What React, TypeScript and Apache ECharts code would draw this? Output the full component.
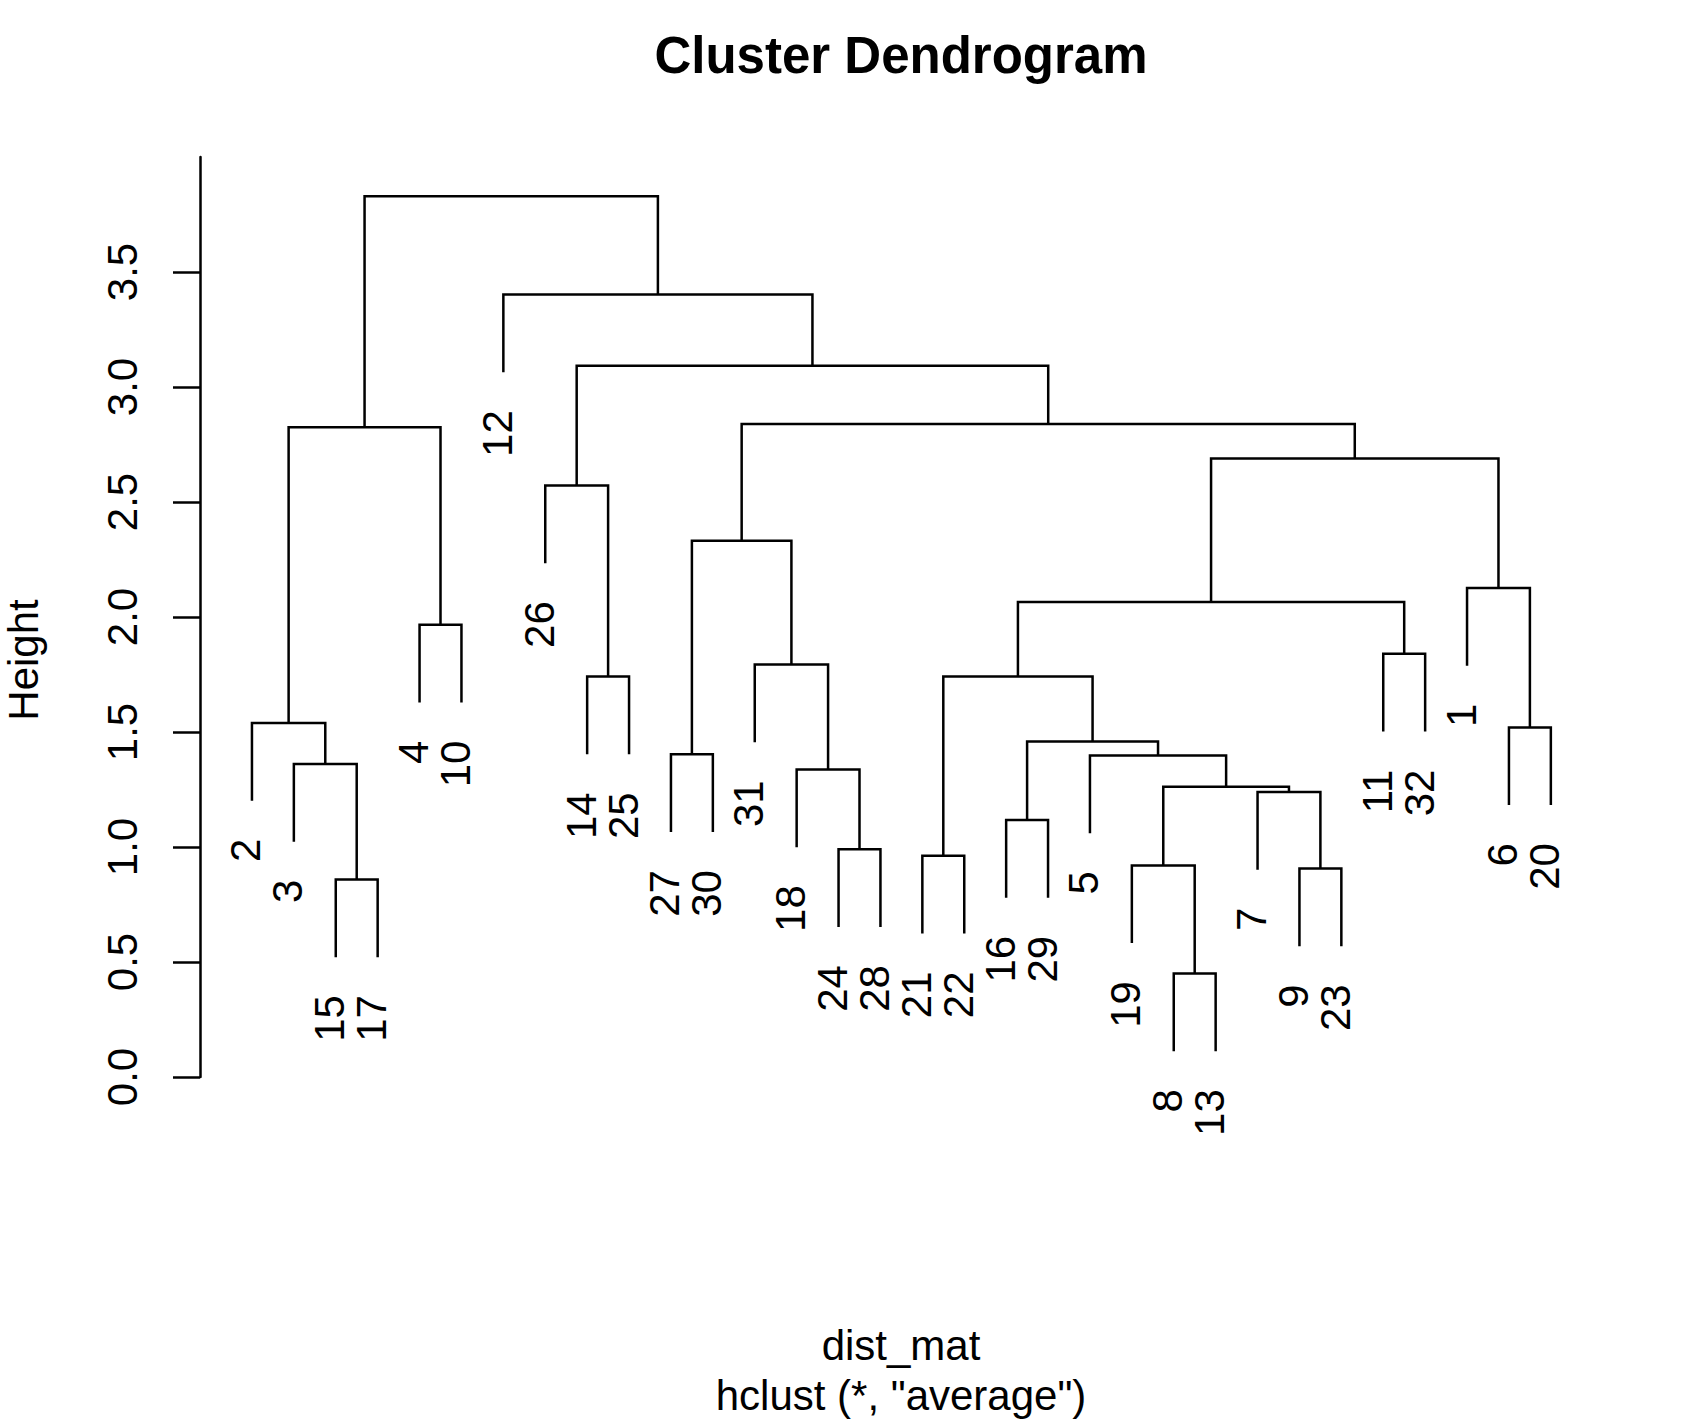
import React, { useEffect, useRef } from 'react';
import * as echarts from 'echarts';

// hclust merge matrix (R convention: negative = observation, positive = earlier merge, 1-based)
const mergeLeft = [-8, -15, -9, -19, -21, -24, -16, -7, 4, -18, -3, -5, -27, 7, -6, -2, -14, 5, -31, -11, -4, 18, -1, 13, -26, 22, 16, 24, 25, -12, 27];
const mergeRight = [-13, -17, -23, 1, -22, -28, -29, 3, 8, 6, 2, 9, -30, 12, -20, 11, -25, 14, 10, -32, -10, 20, 15, 19, 17, 23, 21, 26, 28, 29, 30];
const mergeHeight = [0.450, 0.859, 0.906, 0.920, 0.962, 0.990, 1.117, 1.239, 1.262, 1.337, 1.361, 1.398, 1.403, 1.459, 1.520, 1.539, 1.741, 1.741, 1.793, 1.840, 1.966, 2.065, 2.126, 2.332, 2.572, 2.689, 2.825, 2.839, 3.092, 3.402, 3.829];

const yTicks = [0, 0.5, 1, 1.5, 2, 2.5, 3, 3.5];
const hangFraction = 0.1;

const titleText = 'Cluster Dendrogram';
const yLabelText = 'Height';
const xLabelText = 'dist_mat';
const subText = 'hclust (*, "average")';

const FONT = '"Liberation Sans", Arial, Helvetica, sans-serif';

function buildTree() {
  const n = mergeHeight.length;
  const order: number[] = [];
  const visit = (node: number) => {
    if (node < 0) order.push(-node);
    else {
      visit(mergeLeft[node - 1]);
      visit(mergeRight[node - 1]);
    }
  };
  visit(n);
  const leafPos: Record<number, number> = {};
  order.forEach((obs, i) => (leafPos[obs] = i + 1));
  const hmin = Math.min(...mergeHeight);
  const hmax = Math.max(...mergeHeight);
  const hang = hangFraction * (hmax - hmin);
  const nodeX: number[] = [];
  const segs: number[][] = [];
  const leaves: number[][] = [];
  const leafText: string[] = [];
  for (let i = 0; i < n; i++) {
    const h = mergeHeight[i];
    const info = (c: number) =>
      c < 0
        ? { x: leafPos[-c], y: h - hang, leaf: -c }
        : { x: nodeX[c - 1], y: mergeHeight[c - 1], leaf: 0 };
    const a = info(mergeLeft[i]);
    const b = info(mergeRight[i]);
    nodeX[i] = (a.x + b.x) / 2;
    segs.push([a.x, a.y, b.x, b.y, h]);
    [a, b].forEach((c) => {
      if (c.leaf) {
        leaves.push([c.x, c.y]);
        leafText.push(String(c.leaf));
      }
    });
  }
  return { segs, leaves, leafText, nLeaves: order.length };
}

export default function App() {
  const ref = useRef<HTMLDivElement>(null);
  useEffect(() => {
    if (!ref.current) return;
    const chart = echarts.init(ref.current, undefined, { renderer: 'svg' });
    const { segs, leaves, leafText, nLeaves } = buildTree();
    const pad = 0.04 * (nLeaves - 1);
    const option: any = {
      animation: false,
      backgroundColor: '#ffffff',
      grid: { left: 200, right: 89.2, top: 157, bottom: 349 },
      xAxis: { type: 'value', min: 1 - pad, max: nLeaves + pad, show: false },
      yAxis: {
        type: 'value',
        min: 0,
        max: 4,
        interval: 0.5,
        axisLine: { show: true, onZero: false, lineStyle: { color: '#000', width: 2.5 } },
        axisTick: { show: true, length: 27, customValues: yTicks, lineStyle: { color: '#000', width: 2.5 } },
        axisLabel: {
          customValues: yTicks,
          rotate: 90,
          margin: 57,
          fontSize: 42,
          color: '#000',
          fontFamily: FONT,
          formatter: (v: number) => v.toFixed(1),
        },
        splitLine: { show: false },
      },
      series: [
        {
          type: 'custom',
          clip: false,
          encode: { x: [0, 2], y: [1, 3, 4] },
          data: segs,
          renderItem: (params: any, api: any) => {
            const p1 = api.coord([api.value(0), api.value(1)]);
            const p2 = api.coord([api.value(0), api.value(4)]);
            const p3 = api.coord([api.value(2), api.value(4)]);
            const p4 = api.coord([api.value(2), api.value(3)]);
            return {
              type: 'polyline',
              shape: { points: [p1, p2, p3, p4] },
              style: { stroke: '#000', lineWidth: 2.5, fill: null },
            };
          },
        },
        {
          type: 'custom',
          clip: false,
          encode: { x: 0, y: 1 },
          data: leaves,
          renderItem: (params: any, api: any) => {
            const p = api.coord([api.value(0), api.value(1)]);
            return {
              type: 'text',
              x: p[0] - 6,
              y: p[1] + 38,
              rotation: Math.PI / 2,
              style: {
                text: leafText[params.dataIndex],
                fontSize: 42,
                fontFamily: FONT,
                fill: '#000',
                align: 'right',
                verticalAlign: 'middle',
              },
            };
          },
        },
      ],
      graphic: [
        {
          type: 'text',
          x: 901,
          y: 55,
          style: { text: titleText, fontSize: 51, fontWeight: 'bold', fontFamily: FONT, fill: '#000', align: 'center', verticalAlign: 'middle' },
        },
        {
          type: 'text',
          x: 23,
          y: 660,
          rotation: Math.PI / 2,
          style: { text: yLabelText, fontSize: 42, lineHeight: 42, fontFamily: FONT, fill: '#000', align: 'center', verticalAlign: 'middle' },
        },
        {
          type: 'text',
          x: 901,
          y: 1345,
          style: { text: xLabelText, fontSize: 42, fontFamily: FONT, fill: '#000', align: 'center', verticalAlign: 'middle' },
        },
        {
          type: 'text',
          x: 901,
          y: 1395,
          style: { text: subText, fontSize: 42, fontFamily: FONT, fill: '#000', align: 'center', verticalAlign: 'middle' },
        },
      ],
    };
    chart.setOption(option);
    return () => chart.dispose();
  }, []);
  return (
    <div
      ref={ref}
      style={{ position: 'absolute', left: 0, top: 0, width: 1692, height: 1426, background: '#fff' }}
    />
  );
}
